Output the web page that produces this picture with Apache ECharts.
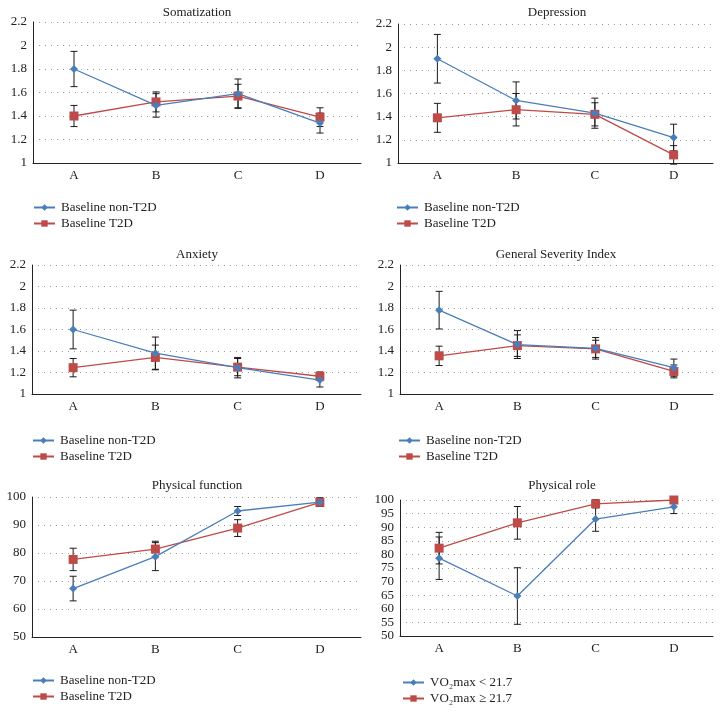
<!DOCTYPE html>
<html><head><meta charset="utf-8">
<script src="https://cdn.jsdelivr.net/npm/echarts@6/dist/echarts.min.js"></script>
<style>html,body{margin:0;padding:0;background:#fff}#c{width:722px;height:712px}</style>
</head><body><div id="c"></div>
<script>
const categories = ['A', 'B', 'C', 'D'];
const panelTitles = ['Somatization', 'Depression', 'Anxiety', 'General Severity Index', 'Physical function', 'Physical role'];
const namesBaseline = ['Baseline non-T2D', 'Baseline T2D'];
const namesVO2 = ['VO\u2082max < 21.7', 'VO\u2082max \u2265 21.7'];

const somBlue = [1.80, 1.49, 1.59, 1.34];
const somBlueErr = [0.15, 0.10, 0.125, 0.085];
const somRed = [1.40, 1.52, 1.57, 1.39];
const somRedErr = [0.09, 0.085, 0.10, 0.08];

const depBlue = [1.90, 1.54, 1.43, 1.22];
const depBlueErr = [0.21, 0.16, 0.13, 0.115];
const depRed = [1.39, 1.46, 1.42, 1.07];
const depRedErr = [0.125, 0.14, 0.10, 0.08];

const anxBlue = [1.60, 1.38, 1.245, 1.13];
const anxBlueErr = [0.18, 0.15, 0.095, 0.065];
const anxRed = [1.245, 1.34, 1.25, 1.165];
const anxRedErr = [0.085, 0.115, 0.08, 0.04];

const gsiBlue = [1.78, 1.46, 1.425, 1.245];
const gsiBlueErr = [0.175, 0.13, 0.10, 0.08];
const gsiRed = [1.355, 1.45, 1.42, 1.21];
const gsiRedErr = [0.09, 0.10, 0.08, 0.06];

const pfBlue = [67.3, 78.7, 95.0, 98.2];
const pfBlueErr = [4.4, 5.0, 1.6, 1.5];
const pfRed = [77.7, 81.4, 88.9, 98.1];
const pfRedErr = [4.0, 2.8, 3.0, 1.5];

const prBlue = [78.6, 64.7, 93.0, 97.5];
const prBlueErr = [7.8, 10.4, 4.5, 2.5];
const prRed = [82.3, 91.6, 98.6, 100];
const prRedErr = [5.8, 6.0, 1.5, 0];

const panels = [
  {blue: somBlue, blueErr: somBlueErr, red: somRed, redErr: somRedErr, names: namesBaseline, min: 1, max: 2.2, interval: 0.2},
  {blue: depBlue, blueErr: depBlueErr, red: depRed, redErr: depRedErr, names: namesBaseline, min: 1, max: 2.2, interval: 0.2},
  {blue: anxBlue, blueErr: anxBlueErr, red: anxRed, redErr: anxRedErr, names: namesBaseline, min: 1, max: 2.2, interval: 0.2},
  {blue: gsiBlue, blueErr: gsiBlueErr, red: gsiRed, redErr: gsiRedErr, names: namesBaseline, min: 1, max: 2.2, interval: 0.2},
  {blue: pfBlue, blueErr: pfBlueErr, red: pfRed, redErr: pfRedErr, names: namesBaseline, min: 50, max: 100, interval: 10},
  {blue: prBlue, blueErr: prBlueErr, red: prRed, redErr: prRedErr, names: namesVO2, min: 50, max: 100, interval: 5}
];

// layout (positions/sizes)
const grids = [
  {left: 33, top: 22, width: 328, height: 141},
  {left: 398, top: 24, width: 315, height: 139},
  {left: 32, top: 265, width: 329, height: 129},
  {left: 400, top: 265, width: 313, height: 129},
  {left: 32, top: 497, width: 329, height: 140},
  {left: 400, top: 500, width: 313, height: 136}
];
const titlePos = [[197, 6], [557, 6], [197, 248], [556, 248], [197, 479], [562, 479]];
const legendPos = [[33, 201], [396, 201], [32, 434], [398, 434], [32, 674], [402, 676]];

const FONT = '"Liberation Serif", "DejaVu Serif", serif';
const BLUE = '#4a7ebb';
const RED = '#be4b48';

function errData(m, e) { return categories.map((c, i) => [i, m[i] - e[i], m[i] + e[i]]); }
function renderErr(params, api) {
  const x = api.value(0);
  const lo = api.coord([x, api.value(1)]);
  const hi = api.coord([x, api.value(2)]);
  const h = 3.5;
  const st = {stroke: '#1a1a1a', lineWidth: 1};
  return {type: 'group', children: [
    {type: 'line', shape: {x1: lo[0], y1: lo[1], x2: hi[0], y2: hi[1]}, style: st},
    {type: 'line', shape: {x1: lo[0] - h, y1: lo[1], x2: lo[0] + h, y2: lo[1]}, style: st},
    {type: 'line', shape: {x1: hi[0] - h, y1: hi[1], x2: hi[0] + h, y2: hi[1]}, style: st}
  ]};
}

const option = {
  backgroundColor: '#fff',
  animation: false,
  title: [], grid: [], xAxis: [], yAxis: [], legend: [], series: []
};

panels.forEach((p, k) => {
  option.title.push({text: panelTitles[k], left: titlePos[k][0], top: titlePos[k][1], textAlign: 'center', padding: 0,
    textStyle: {fontFamily: FONT, fontSize: 13, fontWeight: 'normal', color: '#222'}});
  option.grid.push(Object.assign({containLabel: false}, grids[k]));
  option.xAxis.push({type: 'category', gridIndex: k, data: categories, boundaryGap: true,
    axisLine: {lineStyle: {color: '#222', width: 1}}, axisTick: {show: false},
    axisLabel: {fontFamily: FONT, fontSize: 13, color: '#222', margin: 6}});
  option.yAxis.push({type: 'value', gridIndex: k, min: p.min, max: p.max, interval: p.interval,
    axisLine: {show: true, lineStyle: {color: '#222', width: 1}}, axisTick: {show: false},
    axisLabel: {fontFamily: FONT, fontSize: 13, color: '#222', margin: 6},
    splitLine: {show: true, lineStyle: {color: '#9a9a9a', width: 1, type: [1, 5]}}});
  option.legend.push({data: p.names, orient: 'vertical', left: legendPos[k][0], top: legendPos[k][1], padding: 0,
    itemWidth: 21, itemHeight: 8, itemGap: 3, selectedMode: false,
    textStyle: {fontFamily: FONT, fontSize: 13, color: '#222', padding: [0, 0, 0, 1]}});
  option.series.push({type: 'custom', name: p.names[0] + ' err', xAxisIndex: k, yAxisIndex: k, data: errData(p.blue, p.blueErr), renderItem: renderErr, z: 1, silent: true});
  option.series.push({type: 'custom', name: p.names[1] + ' err', xAxisIndex: k, yAxisIndex: k, data: errData(p.red, p.redErr), renderItem: renderErr, z: 1, silent: true});
  option.series.push({type: 'line', name: p.names[0], xAxisIndex: k, yAxisIndex: k, data: p.blue, z: 3,
    symbol: 'diamond', symbolSize: 8, color: BLUE, lineStyle: {color: BLUE, width: 1.3}, itemStyle: {color: BLUE}});
  option.series.push({type: 'line', name: p.names[1], xAxisIndex: k, yAxisIndex: k, data: p.red, z: 2,
    symbol: 'rect', symbolSize: 9, color: RED, lineStyle: {color: RED, width: 1.3}, itemStyle: {color: RED}});
});

const chart = echarts.init(document.getElementById('c'), null, {renderer: 'canvas'});
chart.setOption(option);
</script></body></html>
